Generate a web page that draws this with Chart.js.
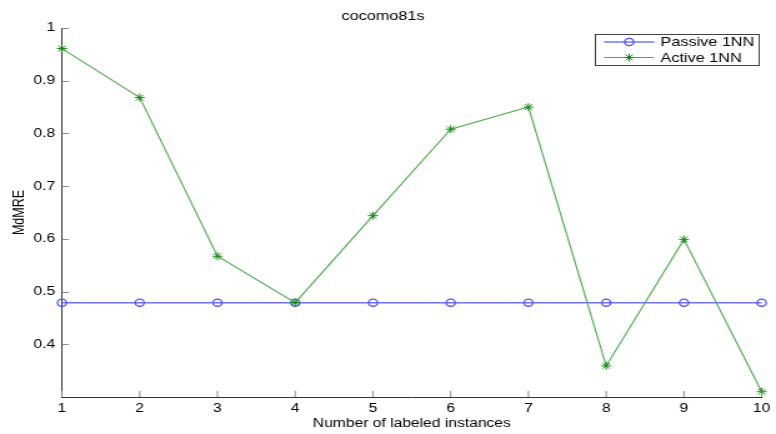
<!DOCTYPE html>
<html>
<head>
<meta charset="utf-8">
<script src="https://cdn.jsdelivr.net/npm/chart.js@4.4.1/dist/chart.umd.min.js"></script>
<style>
  html, body { margin: 0; padding: 0; background: #fff; overflow: hidden; }
  /* the figure is laid out on a narrower canvas and widened to the window */
  #wrap { position: absolute; left: 0; top: 0; width: 621px; height: 434px;
          transform-origin: 0 0; transform: scaleX(1.2495974); }
</style>
</head>
<body>
<div id="wrap"><canvas id="c"></canvas></div>
<script>
// Number of labeled instances on the x axis
const labeledCounts = [1, 2, 3, 4, 5, 6, 7, 8, 9, 10];
// MdMRE per number of labeled instances
const passive1NN = [0.479, 0.479, 0.479, 0.479, 0.479, 0.479, 0.479, 0.479, 0.479, 0.479];
const active1NN  = [0.961, 0.868, 0.567, 0.479, 0.644, 0.808, 0.850, 0.359, 0.599, 0.310];
// y-axis tick values
const yTickValues = [0.4, 0.5, 0.6, 0.7, 0.8, 0.9, 1];
const seriesNames = ['Passive 1NN', 'Active 1NN'];
const chartTitle = 'cocomo81s';
const xTitle = 'Number of labeled instances';
const yTitle = 'MdMRE';

const FONT = 'Liberation Sans, Arial, sans-serif';

function drawMarker(ctx, style, x, y, r, color, lw) {
  ctx.save();
  ctx.strokeStyle = color;
  ctx.lineWidth = lw;
  ctx.beginPath();
  if (style === 'circle') {
    ctx.arc(x, y, r, 0, Math.PI * 2);
  } else {
    for (let k = 0; k < 4; k++) {
      const a = k * Math.PI / 4;
      ctx.moveTo(x - r * Math.cos(a), y - r * Math.sin(a));
      ctx.lineTo(x + r * Math.cos(a), y + r * Math.sin(a));
    }
  }
  ctx.stroke();
  ctx.restore();
}

// inward tick marks on both axes
const innerTicks = {
  id: 'innerTicks',
  afterDatasetsDraw(chart) {
    const { ctx, chartArea: a, scales: { x, y } } = chart;
    ctx.save();
    ctx.strokeStyle = '#8a8a8a';
    ctx.lineWidth = 1;
    ctx.beginPath();
    yTickValues.forEach(v => {
      const py = Math.round(y.getPixelForValue(v)) + 0.5;
      ctx.moveTo(a.left, py);
      ctx.lineTo(a.left + 5.5, py);
    });
    labeledCounts.forEach((c, i) => {
      const px = x.getPixelForValue(i);
      ctx.moveTo(px, a.bottom);
      ctx.lineTo(px, a.bottom - 6);
    });
    ctx.stroke();
    ctx.restore();
  }
};

// boxed legend in the upper right corner
const boxLegend = {
  id: 'boxLegend',
  afterDraw(chart) {
    const { ctx } = chart;
    const box = { l: 476.5, r: 607.5, t: 34.5, b: 65.5 };
    ctx.save();
    ctx.fillStyle = '#fff';
    ctx.fillRect(box.l, box.t, box.r - box.l, box.b - box.t);
    ctx.strokeStyle = '#444';
    ctx.lineWidth = 1;
    ctx.strokeRect(box.l, box.t, box.r - box.l, box.b - box.t);
    const rows = [42, 57.5];
    chart.data.datasets.forEach((ds, i) => {
      const yy = rows[i];
      ctx.strokeStyle = ds.borderColor;
      ctx.lineWidth = ds.borderWidth;
      ctx.beginPath();
      ctx.moveTo(483.5, yy);
      ctx.lineTo(523.5, yy);
      ctx.stroke();
      drawMarker(ctx, ds.pointStyle, 503.5, yy, ds.pointRadius, ds.pointBorderColor, ds.pointBorderWidth);
      ctx.fillStyle = '#000';
      ctx.font = '13px ' + FONT;
      ctx.textBaseline = 'middle';
      ctx.textAlign = 'left';
      ctx.fillText(ds.label, 528.5, yy + 0.5);
    });
    ctx.restore();
  }
};

const whiteBg = {
  id: 'whiteBg',
  beforeDraw(chart) {
    const { ctx, width, height } = chart;
    ctx.save();
    ctx.fillStyle = '#fff';
    ctx.fillRect(0, 0, width, height);
    ctx.restore();
  }
};

new Chart(document.getElementById('c'), {
  type: 'line',
  data: {
    labels: labeledCounts.map(String),
    datasets: [
      {
        label: seriesNames[0],
        data: passive1NN,
        borderColor: 'rgba(90,90,255,0.85)',
        borderWidth: 1.5,
        pointStyle: 'circle',
        pointRadius: 3.6,
        pointBorderColor: '#5252ff',
        pointBackgroundColor: 'rgba(0,0,0,0)',
        pointBorderWidth: 1.3,
        tension: 0,
        clip: false,
        order: 1
      },
      {
        label: seriesNames[1],
        data: active1NN,
        borderColor: '#4fab4f',
        borderWidth: 1.1,
        pointStyle: 'star',
        pointRadius: 4,
        pointBorderColor: '#158a15',
        pointBackgroundColor: '#158a15',
        pointBorderWidth: 1,
        tension: 0,
        clip: false,
        order: 0
      }
    ]
  },
  plugins: [whiteBg, innerTicks, boxLegend],
  options: {
    responsive: true,
    maintainAspectRatio: false,
    animation: false,
    devicePixelRatio: 1,
    layout: { padding: { left: 0, right: 8, top: 0, bottom: 0 } },
    plugins: {
      legend: { display: false },
      tooltip: { enabled: false },
      title: {
        display: true,
        text: chartTitle,
        color: '#000',
        font: { family: FONT, size: 13, weight: 'normal' },
        padding: { top: 9, bottom: 3.4 }
      }
    },
    scales: {
      x: {
        type: 'category',
        offset: false,
        afterFit(s) { s.height = 37; },
        grid: { display: true, drawOnChartArea: false, drawTicks: false },
        border: { display: true, color: '#333', width: 1 },
        ticks: {
          color: '#000',
          padding: 4.5,
          maxRotation: 0,
          autoSkip: false,
          font: { family: FONT, size: 12.5 }
        },
        title: {
          display: true,
          text: xTitle,
          color: '#000',
          font: { family: FONT, size: 12.5 },
          padding: { top: 0, bottom: 3 }
        }
      },
      y: {
        type: 'linear',
        min: 0.3,
        max: 1,
        afterFit(s) { s.width = 49.6; },
        afterBuildTicks(s) { s.ticks = yTickValues.map(v => ({ value: v })); },
        grid: { display: true, drawOnChartArea: false, drawTicks: false },
        border: { display: true, color: '#333', width: 1 },
        ticks: {
          color: '#000',
          padding: 5.5,
          font: { family: FONT, size: 12.5 },
          callback: v => (v === 1 ? '1' : v.toFixed(1))
        },
        title: {
          display: true,
          text: yTitle,
          color: '#000',
          font: { family: FONT, size: 12.5 },
          padding: { top: 8, bottom: 0 }
        }
      }
    }
  }
});
</script>
</body>
</html>
